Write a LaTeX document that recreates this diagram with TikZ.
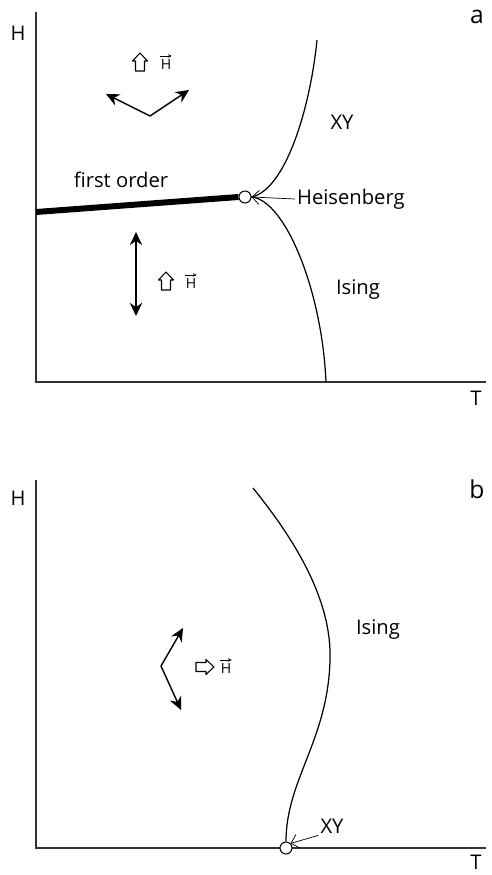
\documentclass[tikz,border=0pt]{standalone}
\usepackage{fontspec}
\setmainfont{Open Sans}
\usetikzlibrary{arrows.meta}

\begin{document}
\begin{tikzpicture}[
    x=0.02cm, y=-0.02cm,
    every node/.style={font=\fontsize{11.5}{13}\selectfont},
    lbl/.style={inner sep=1pt},
    axis/.style={line width=0.6pt, black!80},
    spin/.style={-{Stealth[length=7.5pt,width=7pt]}, line width=0.8pt},
    bound/.style={line width=0.7pt},
    crit/.style={circle, draw, fill=white, line width=0.6pt, minimum size=0.24cm, inner sep=0pt},
    fieldlbl/.style={inner sep=0pt, font=\fontsize{8}{9}\selectfont},
    vecbar/.style={-{Stealth[length=2pt,width=2pt]}, line width=0.35pt},
    point/.style={-{Straight Barb[length=4pt]}, line width=0.4pt},
    fieldarr/.pic={
      \draw[line width=0.6pt, line join=round]
        (-4.5,9) -- (-4.5,-1) -- (-7.5,-1) -- (0,-9) -- (7.5,-1) -- (4.5,-1) -- (4.5,9) -- cycle;
    }
  ]
    \useasboundingbox (0,0) rectangle (492,875);

    % ---------- panel a ----------
    \coordinate (oa) at (36,382);
    \coordinate (ya) at (36,12);
    \coordinate (xa) at (486,382);
    \draw[axis] (ya) -- (oa) -- (xa);
    \node[lbl] (Ha) at (18,33) {H};
    \node[lbl] (Ta) at (476,398) {T};
    \node[lbl, font=\fontsize{14}{16}\selectfont] (a) at (477,17) {a};

    % tricritical (Heisenberg) point
    \node[crit] (heis) at (245,197) {};
    \coordinate (fostart) at (36,212);
    \coordinate (xytop) at (317,40);
    \coordinate (isbot) at (326,382);

    % first order line and the two boundaries
    \draw[line width=3.4pt] (fostart) -- (heis.west);
    \draw[bound] (heis.east) .. controls (285,190) and (310,110) .. (xytop);
    \draw[bound] (heis.east) .. controls (285,200) and (322,290) .. (isbot);

    \node[lbl] (fo) at (121,180) {first order};
    \node[lbl] (xya) at (342,122) {XY};
    \node[lbl] (isa) at (358,290) {Ising};
    \node[lbl, anchor=west] (heislbl) at (295,199) {Heisenberg};
    \draw[point] (heislbl.west) -- (heis.east);

    % spins above the first order line
    \coordinate (va) at (150,116);
    \coordinate (upl) at (106,94);
    \coordinate (upr) at (189,90);
    \draw[spin] (va) -- (upl);
    \draw[spin] (va) -- (upr);
    \pic at (140,62) {fieldarr};
    \node[fieldlbl] (ha) at (166,64) {H};
    \draw[vecbar] ([yshift=1.5pt]ha.north west) -- ([yshift=1.5pt]ha.north east);

    % spins below the first order line
    \coordinate (vb) at (136,274);
    \coordinate (sup) at (136,232);
    \coordinate (sdn) at (136,316);
    \draw[spin] (vb) -- (sup);
    \draw[spin] (vb) -- (sdn);
    \pic at (166,281) {fieldarr};
    \node[fieldlbl] (hb) at (191,283) {H};
    \draw[vecbar] ([yshift=1.5pt]hb.north west) -- ([yshift=1.5pt]hb.north east);

    % ---------- panel b ----------
    \coordinate (ob) at (36,848);
    \coordinate (yb) at (36,480);
    \coordinate (xb) at (486,848);
    \draw[axis] (yb) -- (ob) -- (xb);
    \node[lbl] (Hb) at (18,498) {H};
    \node[lbl] (Tb) at (476,862) {T};
    \node[lbl, font=\fontsize{14}{16}\selectfont] (b) at (477,489) {b};

    \node[crit] (xyb) at (286,848) {};
    \coordinate (btop) at (253,488);
    \coordinate (bmid) at (330,660);
    \draw[bound] (btop) .. controls (295,540) and (332,600) .. (bmid)
      .. controls (328,740) and (286,780) .. (xyb.north);

    \node[lbl] (isb) at (378,630) {Ising};
    \node[lbl] (xylbl) at (332,826) {XY};
    \draw[point] (xylbl.south west) -- (xyb.north east);

    % spins in the canted phase
    \coordinate (vc) at (161,666);
    \coordinate (cup) at (183,628);
    \coordinate (cdn) at (181,710);
    \draw[spin] (vc) -- (cup);
    \draw[spin] (vc) -- (cdn);
    \pic[rotate=-90] at (205,667) {fieldarr};
    \node[fieldlbl] (hc) at (226,668) {H};
    \draw[vecbar] ([yshift=1.5pt]hc.north west) -- ([yshift=1.5pt]hc.north east);

  \end{tikzpicture}
\end{document}
